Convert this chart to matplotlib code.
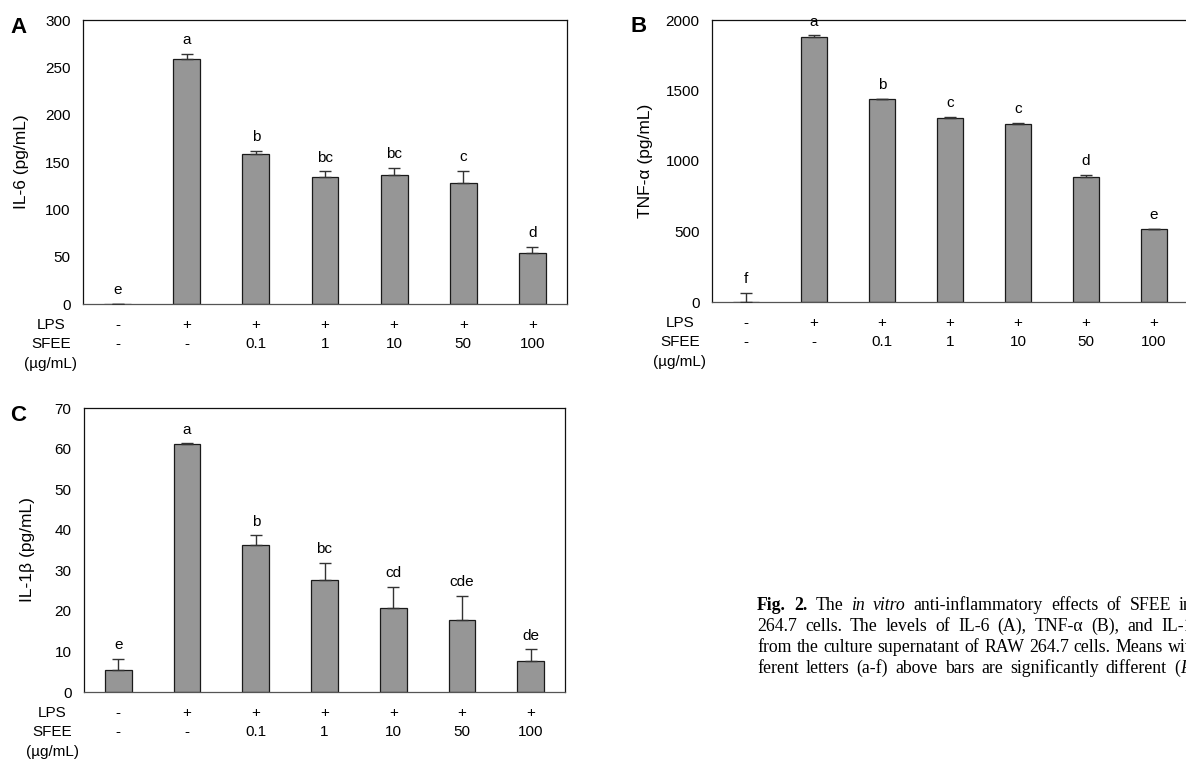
import numpy as np
import matplotlib
matplotlib.use("Agg")
from matplotlib import pyplot as plt

plt.rcParams['font.family'] = ['Liberation Sans', 'DejaVu Sans']

W, H = 1186, 760

lps_labels = ["-", "+", "+", "+", "+", "+", "+"]
sfee_labels = ["-", "-", "0.1", "1", "10", "50", "100"]

# IL-6 (pg/mL)
il6_mean = [0, 259, 158, 134, 136, 128, 54]
il6_err = [0, 5, 4, 6, 8, 13, 6.5]
il6_letters = ["e", "a", "b", "bc", "bc", "c", "d"]

# TNF-alpha (pg/mL)
tnf_mean = [0, 1877, 1438, 1307, 1265, 889, 516]
tnf_err = [65, 15, 5, 4, 4, 12, 4]
tnf_letters = ["f", "a", "b", "c", "c", "d", "e"]

# IL-1beta (pg/mL)
il1b_mean = [5.3, 61.1, 36.2, 27.5, 20.8, 17.8, 7.7]
il1b_err = [2.8, 0.2, 2.4, 4.4, 5.2, 5.9, 2.8]
il1b_letters = ["e", "a", "b", "bc", "cd", "cde", "de"]

# caption lines: (text, style, weight) words, the visible part of each line
cap_line1 = [("Fig.", "normal", "bold"), ("2.", "normal", "bold"), ("The", "normal", "normal"),
             ("in", "italic", "normal"), ("vitro", "italic", "normal"),
             ("anti-inflammatory", "normal", "normal"), ("effects", "normal", "normal"),
             ("of", "normal", "normal"), ("SFEE", "normal", "normal"), ("in", "normal", "normal")]
cap_line2 = [(w, "normal", "normal") for w in
             ["264.7", "cells.", "The", "levels", "of", "IL-6", "(A),", "TNF-α", "(B),", "and", "IL-1β"]]
cap_line3 = [(w, "normal", "normal") for w in
             ["from", "the", "culture", "supernatant", "of", "RAW", "264.7", "cells.", "Means", "with"]]
cap_line4 = [(w, "normal", "normal") for w in
             ["ferent", "letters", "(a-f)", "above", "bars", "are", "significantly", "different", "("]]


def px_axes(fig, left, top, right, bottom):
    return fig.add_axes([left / W, 1 - bottom / H, (right - left) / W, (bottom - top) / H])


def draw_panel(ax, mean, err, letters, ylabel, ymax, ystep, ylab_x):
    x = np.arange(len(mean))
    ax.bar(x, mean, width=0.39, color="#969696", edgecolor="#1a1a1a", linewidth=0.9, zorder=2)
    ax.errorbar(x, mean, yerr=[np.zeros(len(err)), err], fmt="none", ecolor="#333333",
                elinewidth=1.0, capsize=4, capthick=1.0, zorder=3)
    for i, lab in enumerate(letters):
        ax.annotate(lab, xy=(i, mean[i] + err[i]), xytext=(0, 7), textcoords="offset points",
                    ha="center", va="baseline", fontsize=11)
    ax.set_xlim(-0.5, len(mean) - 0.5)
    ax.set_ylim(0, ymax)
    ax.set_yticks(np.arange(0, ymax + ystep / 2, ystep))
    ax.set_xticks([])
    ax.tick_params(axis="y", length=0, pad=9, labelsize=11)
    for s in ax.spines.values():
        s.set_linewidth(0.9)
        s.set_color("#111111")
    ax.spines["bottom"].set_color("#555555")
    ax.set_ylabel(ylabel, fontsize=12.5)
    ax.yaxis.set_label_coords(ylab_x, 0.5)

    # treatment table under the axis
    for labels, off in zip([lps_labels, sfee_labels], [21, 40]):
        for i, lab in enumerate(labels):
            ax.annotate(lab, xy=(i, 0), xycoords=("data", "axes fraction"),
                        xytext=(0, -off), textcoords="offset pixels",
                        ha="center", va="center", fontsize=11)
    for lab, off in zip(["LPS", "SFEE", "(µg/mL)"], [21, 40, 60]):
        ax.annotate(lab, xy=(0, 0), xycoords="axes fraction",
                    xytext=(-32, -off), textcoords="offset pixels",
                    ha="center", va="center", fontsize=11)


fig = plt.figure(figsize=(W / 100, H / 100), dpi=100)

axA = px_axes(fig, 83, 20, 567, 304)
draw_panel(axA, il6_mean, il6_err, il6_letters, "IL-6 (pg/mL)", 300, 50, -0.112)

axB = px_axes(fig, 712, 20, 1188, 302)
draw_panel(axB, tnf_mean, tnf_err, tnf_letters, "TNF-α (pg/mL)", 2000, 500, -0.124)

axC = px_axes(fig, 84, 408, 565, 692)
draw_panel(axC, il1b_mean, il1b_err, il1b_letters, "IL-1β (pg/mL)", 70, 10, -0.102)

for letter, (lx, ly) in zip("ABC", [(10, 33), (630, 32), (10, 421)]):
    fig.text(lx / W, 1 - ly / H, letter, fontsize=16, fontweight="bold", va="baseline")

# justified caption, cut by the right edge like the source page
cap_font = ["Liberation Serif", "DejaVu Serif"]
cap_size = 12.8
renderer = fig.canvas.get_renderer()


def caption_line(words, baseline, x_start, x_last):
    texts, widths = [], []
    for w, style, weight in words:
        t = fig.text(0, 1 - baseline / H, w, family=cap_font, fontsize=cap_size,
                     style=style, fontweight=weight, va="baseline")
        texts.append(t)
        widths.append(t.get_window_extent(renderer).width)
    gap = (x_last - x_start - sum(widths[:-1])) / (len(words) - 1)
    x = x_start
    for t, w in zip(texts, widths):
        t.set_x(x / W)
        x += w + gap
    return x - gap


caption_line(cap_line1, 610, 757, 1179)
caption_line(cap_line2, 631, 757, 1161)
caption_line(cap_line3, 652, 757, 1168)
x_end = caption_line(cap_line4, 673, 757, 1174)
fig.text(x_end / W, 1 - 673 / H, "P", family=cap_font, fontsize=cap_size,
         style="italic", va="baseline")

fig.savefig("out.png", dpi=100)
